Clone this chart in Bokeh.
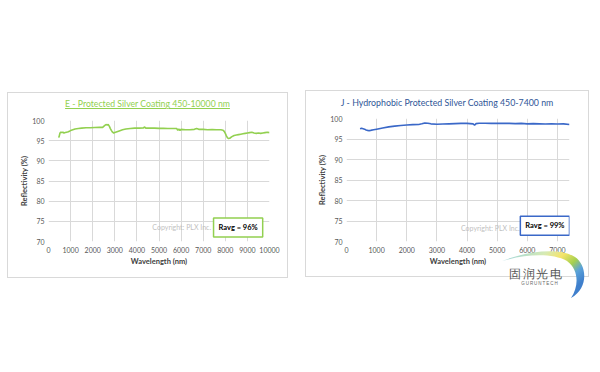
from bokeh.plotting import figure
from bokeh.layouts import row, column
from bokeh.models import Spacer, Label, FixedTicker, Div
from bokeh.embed import file_html
from bokeh.resources import INLINE

# ---------------- data ----------------
wl_e = [450, 480, 520, 560, 600, 650, 700, 760, 820, 900, 1000, 1100, 1200, 1350, 1500,
        1700, 1900, 2100, 2300, 2450, 2550, 2600, 2650, 2700, 2750, 2800, 2850, 2900, 2950,
        3000, 3100, 3200, 3350, 3500, 3700, 3900, 4100, 4300, 4350, 4400, 4600, 4800, 5000,
        5200, 5400, 5600, 5800, 5850, 5900, 5950, 6000, 6200, 6400, 6600, 6700, 6800, 7000,
        7200, 7400, 7600, 7800, 7900, 7950, 8000, 8050, 8100, 8150, 8200, 8300, 8400, 8500,
        8600, 8700, 8800, 8900, 9000, 9100, 9200, 9300, 9400, 9500, 9600, 9700, 9800, 9900, 10000]
refl_e = [95.8, 96.0, 96.9, 97.1, 97.0, 97.1, 96.9, 97.0, 97.1, 97.2, 97.5, 97.7, 97.9, 98.0, 98.1,
          98.2, 98.2, 98.25, 98.3, 98.3, 98.8, 99.0, 98.9, 99.0, 98.6, 98.0, 97.5, 97.1, 96.9,
          97.0, 97.2, 97.4, 97.7, 97.9, 98.0, 98.1, 98.1, 98.15, 98.4, 98.1, 98.1, 98.1, 98.05,
          98.05, 98.0, 98.0, 98.0, 97.6, 97.9, 97.5, 97.8, 97.7, 97.7, 97.8, 98.0, 97.8, 97.8,
          97.7, 97.75, 97.7, 97.7, 97.6, 97.3, 96.8, 96.2, 95.7, 95.55, 95.6, 96.0, 96.3, 96.4,
          96.5, 96.6, 96.7, 96.8, 96.9, 97.0, 97.1, 96.9, 96.8, 96.9, 96.8, 96.9, 97.0, 97.1, 97.0]

wl_j = [450, 500, 550, 600, 650, 700, 750, 800, 900, 1000, 1200, 1400, 1600, 1800, 2000, 2200,
        2400, 2500, 2600, 2700, 2800, 3000, 3200, 3400, 3600, 3800, 4000, 4200, 4250, 4300, 4400,
        4600, 4800, 5000, 5200, 5400, 5600, 5800, 6000, 6200, 6400, 6600, 6800, 7000, 7200, 7400]
refl_j = [97.5, 97.6, 97.5, 97.4, 97.2, 97.1, 97.05, 97.1, 97.25, 97.4, 97.7, 97.95, 98.15, 98.3,
          98.4, 98.5, 98.55, 98.7, 98.9, 98.85, 98.7, 98.6, 98.65, 98.7, 98.75, 98.8, 98.8, 98.7,
          98.4, 98.75, 98.85, 98.85, 98.8, 98.85, 98.8, 98.8, 98.75, 98.8, 98.7, 98.75, 98.7,
          98.65, 98.7, 98.65, 98.7, 98.55]

y_ticks = [70, 75, 80, 85, 90, 95, 100]
x_ticks_e = [0, 1000, 2000, 3000, 4000, 5000, 6000, 7000, 8000, 9000, 10000]
x_ticks_j = [0, 1000, 2000, 3000, 4000, 5000, 6000, 7000]

title_e = "E - Protected Silver Coating 450-10000 nm"
title_j = "J - Hydrophobic Protected Silver Coating 450-7400 nm"
ravg_e = "Ravg = 96%"
ravg_j = "Ravg = 99%"
copyright_txt = "Copyright: PLX Inc."
logo_cn = "固润光电"
logo_en = "GURUNTECH"

FONT = "Lato"
GREEN = "#92D050"
BLUE = "#3A68C8"
GRID = "#D9D9D9"


def make_fig(w, h, xmax, xticks, xs, ys, color, ravg, ravg_x, ravg_y, copy_x, copy_y,
             b_left, b_right, b_top, b_bottom):
    p = figure(width=w, height=h, x_range=(0, xmax), y_range=(70, 100),
               output_backend="svg", toolbar_location=None,
               min_border_left=b_left, min_border_right=b_right,
               min_border_top=b_top, min_border_bottom=b_bottom)
    p.outline_line_color = None
    p.background_fill_color = "white"
    p.border_fill_color = "white"
    p.xaxis.ticker = FixedTicker(ticks=xticks)
    p.yaxis.ticker = FixedTicker(ticks=y_ticks)
    for ax in (p.xaxis[0], p.yaxis[0]):
        ax.axis_line_color = None
        ax.major_tick_line_color = None
        ax.minor_tick_line_color = None
        ax.major_tick_out = 0
        ax.major_tick_in = 0
        ax.major_label_text_font = FONT
        ax.major_label_text_font_size = "7px"
        ax.major_label_text_color = "#595959"
        ax.axis_label_text_font = FONT
        ax.axis_label_text_font_size = "7.5px"
        ax.axis_label_text_font_style = "bold"
        ax.axis_label_text_color = "#404040"
    p.xaxis.axis_label = "Wavelength (nm)"
    p.yaxis.axis_label = "Reflectivity (%)"
    p.xaxis.major_label_standoff = 5
    p.xaxis.axis_label_standoff = 1
    p.yaxis.major_label_standoff = 4
    p.yaxis.axis_label_standoff = 0
    p.xgrid.grid_line_color = GRID
    p.ygrid.grid_line_color = GRID

    p.line(xs, ys, line_color=color, line_width=1.6)

    p.add_layout(Label(x=copy_x, y=copy_y, text=copyright_txt, text_font=FONT,
                       text_font_size="7px", text_color="#BFBFBF",
                       text_align="left", text_baseline="middle"))
    p.add_layout(Label(x=ravg_x, y=ravg_y, text=ravg, text_font=FONT,
                       text_font_size="7.5px", text_font_style="bold", text_color="#000000",
                       text_align="center", text_baseline="middle",
                       border_line_color=color, border_line_width=1.5,
                       background_fill_color="white", padding=5))
    return p


def title_div(text, w, color, underline, top, size):
    deco = "underline" if underline else "none"
    html = ('<div style="width:%dpx;height:20px;position:relative;top:%dpx;text-align:center;'
            'font-family:Lato;font-size:%spx;line-height:20px;color:%s;text-decoration:%s;'
            'white-space:nowrap;">%s</div>' % (w, top, size, color, deco, text))
    return Div(text=html, width=w, height=20, margin=0)


f1 = make_fig(270, 155, 10000, x_ticks_e, wl_e, refl_e, GREEN, ravg_e, 8580, 73.5,
              4700, 73.5, 30, 18, 7, 26)
f2 = make_fig(273, 157, 7400, x_ticks_j, wl_j, refl_j, BLUE, ravg_j, 6584, 73.85,
              3800, 73.4, 30, 19, 7, 26)

panel1 = column(title_div(title_e, 279, GREEN, True, 1, 8.7),
                row(Spacer(width=9, height=10), f1),
                Spacer(width=10, height=9),
                styles={"border": "1px solid #D9D9D9"})
panel2 = column(title_div(title_j, 282, "#2F5597", False, 2, 8.8),
                row(Spacer(width=9, height=10), f2),
                Spacer(width=10, height=8),
                styles={"border": "1px solid #D9D9D9"})

logo_svg = (
    '<svg width="92" height="52" xmlns="http://www.w3.org/2000/svg">'
    '<defs><linearGradient id="lg" x1="0" y1="0" x2="1" y2="0.6">'
    '<stop offset="0" stop-color="#8FCFE3"/><stop offset="0.4" stop-color="#D6EAB4"/>'
    '<stop offset="0.58" stop-color="#F5E46A"/><stop offset="0.74" stop-color="#A6D04E"/>'
    '<stop offset="0.86" stop-color="#5BA3D9"/><stop offset="1" stop-color="#3F7FCC"/>'
    '</linearGradient></defs>'
    '<path d="M5 11 C 25 3, 60 -4, 78 7 C 90 15, 92 38, 74 48 C 82 36, 82 20, 70 11 '
    'C 55 3, 30 4, 5 11 Z" fill="url(#lg)"/>'
    '<text x="39" y="27.5" text-anchor="middle" font-family="Noto Sans CJK SC" '
    'font-size="11.5" letter-spacing="1.5" fill="#555555">%s</text>'
    '<text x="43" y="35" text-anchor="middle" font-family="DejaVu Serif" '
    'font-size="4.5" letter-spacing="1" fill="#666666">%s</text>'
    '</svg>' % (logo_cn, logo_en))
logo = Div(text=logo_svg, width=92, height=52, margin=0,
           styles={"position": "relative", "top": "-27px", "left": "192px", "z-index": "5"})

layout = row(Spacer(width=7, height=10),
             column(Spacer(height=92, width=10), panel1),
             Spacer(width=17, height=10),
             column(Spacer(height=90, width=10), panel2, logo))

html = file_html(layout, INLINE)
open("out.html", "w").write(html)
